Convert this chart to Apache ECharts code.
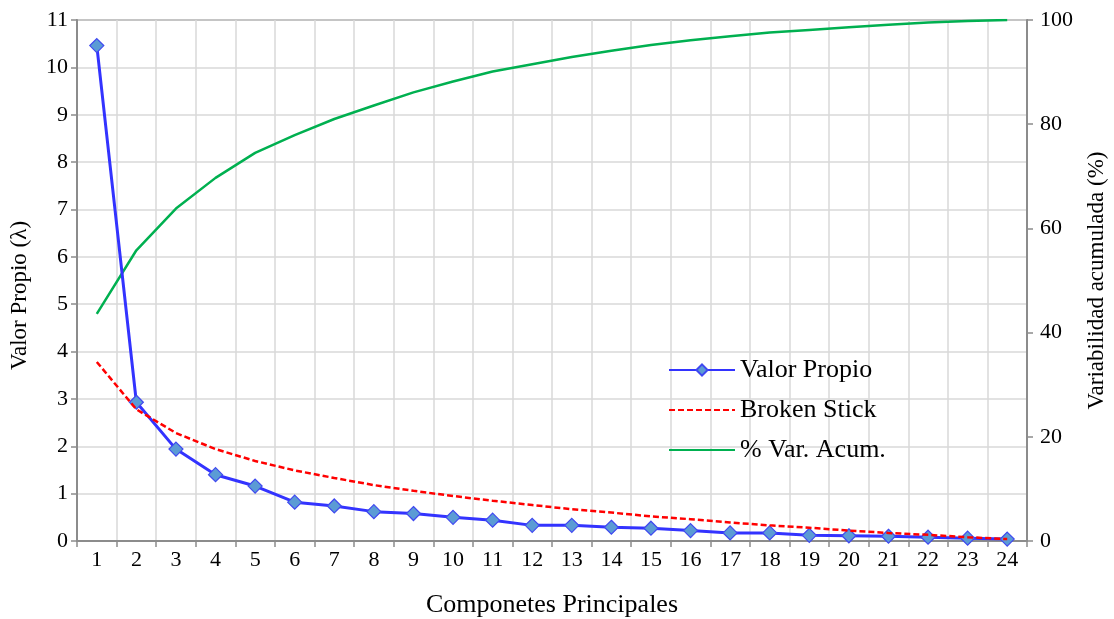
<!DOCTYPE html>
<html>
<head>
<meta charset="utf-8">
<script src="https://cdn.jsdelivr.net/npm/echarts@6/dist/echarts.min.js"></script>
<style>
  html, body { margin: 0; padding: 0; background: #fff; overflow: hidden; }
  #chart { width: 1114px; height: 619px; }
</style>
</head>
<body>
<div id="chart"></div>
<script>
// Principal components 1..24
const components = ['1','2','3','4','5','6','7','8','9','10','11','12','13','14','15','16','17','18','19','20','21','22','23','24'];

// Eigenvalues (λ)
const valorPropio = [10.46, 2.93, 1.94, 1.40, 1.16, 0.82, 0.74, 0.62, 0.58, 0.50, 0.44, 0.33, 0.33, 0.29, 0.27, 0.22, 0.17, 0.17, 0.12, 0.11, 0.10, 0.08, 0.06, 0.04];

// Broken-stick reference values
const brokenStick = [3.78, 2.78, 2.28, 1.94, 1.69, 1.49, 1.33, 1.18, 1.06, 0.95, 0.85, 0.76, 0.67, 0.60, 0.52, 0.46, 0.39, 0.33, 0.28, 0.22, 0.17, 0.13, 0.08, 0.04];

// Cumulative explained variability (%)
const varAcum = [43.6, 55.8, 63.8, 69.7, 74.5, 77.9, 81.0, 83.6, 86.1, 88.2, 90.1, 91.5, 92.9, 94.1, 95.2, 96.1, 96.9, 97.6, 98.1, 98.6, 99.1, 99.5, 99.8, 100.0];

const leftTicks = { min: 0, max: 11, interval: 1 };
const rightTicks = { min: 0, max: 100, interval: 20 };

const FONT = '"Liberation Serif", "Times New Roman", serif';
const AXIS_GRAY = '#8c8c8c';
const GRID_GRAY = '#d9d9d9';

const chart = echarts.init(document.getElementById('chart'));
chart.setOption({
  animation: false,
  backgroundColor: '#ffffff',
  textStyle: { fontFamily: FONT, color: '#000' },
  grid: {
    left: 77, right: 87, top: 20, bottom: 78,
    containLabel: false,
    outerBoundsMode: 'none',
    show: true, borderColor: AXIS_GRAY, borderWidth: 2, backgroundColor: 'transparent'
  },
  legend: {
    data: [
      { name: 'Valor Propio' },
      { name: 'Broken Stick', itemStyle: { opacity: 0 } },
      { name: '% Var. Acum.', itemStyle: { opacity: 0 } }
    ],
    orient: 'vertical',
    left: 663, top: 352,
    itemWidth: 66, itemHeight: 14, itemGap: 14,
    textStyle: { fontFamily: FONT, fontSize: 26, color: '#000' }
  },
  xAxis: {
    type: 'category',
    data: components,
    boundaryGap: true,
    name: 'Componetes Principales',
    nameLocation: 'middle',
    nameGap: 51,
    nameTextStyle: { fontFamily: FONT, fontSize: 26, color: '#000' },
    axisLine: { lineStyle: { color: AXIS_GRAY, width: 2 } },
    axisTick: { show: true, interval: 0, length: 6, lineStyle: { color: AXIS_GRAY, width: 1.5 } },
    axisLabel: { interval: 0, margin: 8, fontFamily: FONT, fontSize: 22, color: '#000' },
    splitLine: { show: true, interval: 0, lineStyle: { color: GRID_GRAY, width: 1.5 } }
  },
  yAxis: [
    {
      type: 'value',
      min: leftTicks.min, max: leftTicks.max, interval: leftTicks.interval,
      position: 'left',
      name: 'Valor Propio (λ)',
      nameLocation: 'middle',
      nameGap: 46,
      nameTextStyle: { fontFamily: FONT, fontSize: 23, color: '#000', padding: [0, 30, 0, 0] },
      axisLine: { show: true, lineStyle: { color: AXIS_GRAY, width: 2 } },
      axisTick: { show: true, length: 6, lineStyle: { color: AXIS_GRAY, width: 1.5 } },
      axisLabel: { margin: 9, fontFamily: FONT, fontSize: 22, color: '#000' },
      splitLine: { show: true, lineStyle: { color: GRID_GRAY, width: 1.5 } }
    },
    {
      type: 'value',
      min: rightTicks.min, max: rightTicks.max, interval: rightTicks.interval,
      position: 'right',
      name: 'Variabilidad acumulada (%)',
      nameLocation: 'middle',
      nameGap: 58,
      nameRotate: 90,
      nameTextStyle: { fontFamily: FONT, fontSize: 23, color: '#000' },
      axisLine: { show: true, lineStyle: { color: AXIS_GRAY, width: 2 } },
      axisTick: { show: true, length: 6, lineStyle: { color: AXIS_GRAY, width: 1.5 } },
      axisLabel: { margin: 13, fontFamily: FONT, fontSize: 22, color: '#000' },
      splitLine: { show: false }
    }
  ],
  series: [
    {
      name: '% Var. Acum.',
      type: 'line',
      yAxisIndex: 1,
      data: varAcum,
      showSymbol: false,
      symbol: 'none',
      lineStyle: { color: '#00b050', width: 2.5 },
      itemStyle: { color: '#00b050' },
      z: 2
    },
    {
      name: 'Valor Propio',
      type: 'line',
      yAxisIndex: 0,
      data: valorPropio,
      symbol: 'diamond',
      symbolSize: 14,
      lineStyle: { color: '#3333ff', width: 3 },
      itemStyle: { color: '#5b9bd5', borderColor: '#3f48f0', borderWidth: 1.2 },
      z: 3
    },
    {
      name: 'Broken Stick',
      type: 'line',
      yAxisIndex: 0,
      data: brokenStick,
      symbol: 'none',
      lineStyle: { color: '#ff0000', width: 2.5, type: [6, 3] },
      itemStyle: { color: '#ff0000' },
      z: 4
    }
  ]
});
</script>
</body>
</html>
